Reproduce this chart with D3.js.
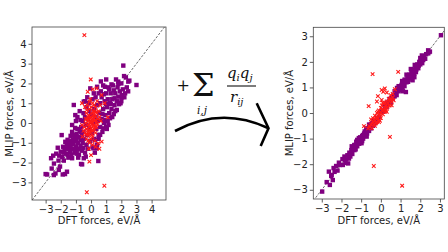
<!DOCTYPE html>
<html lang="en">
<head>
<meta charset="utf-8"/>
<title>MLIP vs DFT forces</title>
<style>
    body { margin: 0; background: #fff; }
    .axis text { font: 10px "DejaVu Sans", sans-serif; fill: #222; }
    .axis line { stroke: #333; stroke-width: 0.8; }
    .axis path { display: none; }
    .label { font: 10px "DejaVu Sans", sans-serif; fill: #222; }
    .math { font-family: "DejaVu Serif", "Liberation Serif", serif; fill: #111; }
</style>
</head>
<body>
<div id="graph"></div>
<script src="https://cdn.jsdelivr.net/npm/d3@7"></script>
<script>
    // ---- data (DFT force, MLIP force) ----
    var leftTicks = [-3, -2, -1, 0, 1, 2, 3, 4];
    var rightTicks = [-3, -2, -1, 0, 1, 2, 3];

    var leftPurple = [
        [-3.0,-2.58],[-2.6,-2.3],[-2.64,-1.78],[-2.45,-2.05],[-2.3,-1.55],[-2.15,-1.9],[-2.05,-2.2],[-2.0,-1.45],
        [-1.9,-1.72],[-1.72,-2.58],[-1.85,-1.2],[-1.94,-0.61],[-1.75,-1.35],[-1.65,-1.55],[-1.6,-1.1],[-1.55,-0.85],
        [-1.7,-0.95],[-2.2,-1.25],[-2.5,-1.65],[-1.8,-1.9],[-1.5,-1.75],[-2.35,-2.55],[-2.9,-2.6],[-2.46,-2.63],
        [-1.59,-2.46],[-1.87,-2.6],[-2.13,-2.37],[-1.25,-1.78],[-0.59,-2.09],[-0.48,-1.78],[-1.08,-1.31],
        [-1.45,-1.3],[-1.39,-1.11],[-1.3,-0.9],[-1.35,-0.65],[-1.25,-0.45],[-1.2,-1.3],[-1.15,-1.05],[-1.1,-0.75],
        [-1.1,-1.5],[-1.0,-1.2],[-1.0,-0.9],[-0.95,-0.55],[-0.9,-1.35],[-0.9,-0.3],[-0.85,-1.0],[-0.8,-0.7],
        [-0.8,-1.6],[-0.75,-0.4],[-0.7,-1.15],[-0.7,-0.85],[-0.66,-2.07],[-0.65,-0.2],[-0.6,-1.4],[-0.6,-0.6],
        [-0.55,-1.0],[-0.55,0.1],[-1.14,0.91],[-1.04,0.4],[-0.9,0.3],[-1.25,-0.1],[-1.4,-1.45],[-0.85,-1.75],
        [-0.5,-0.45],[-0.5,-1.25],[-0.5,0.5],[-0.7,0.15],[-1.0,0.1],[-0.75,0.6],[-0.48,1.08],[-1.2,-0.6],
        [-1.6,-1.3],[-1.3,-1.6],[-0.95,-1.55],[-0.35,-1.7],[-1.45,-0.95],[-1.8,-1.5],[-1.2,-0.85],[-0.95,-0.7],
        [-1.35,-1.25],[-1.05,-1.45],[-0.75,-1.3],[-1.55,-1.6],[-2.1,-1.65],[-0.65,-0.45],[-1.05,-0.25],
        [-0.45,-0.8],[-0.4,-1.5],[-0.4,0.3],[-0.35,-0.1],[-0.3,-1.1],[-0.3,0.8],[-0.25,-0.6],[-0.2,0.2],
        [-0.2,-1.3],[-0.15,1.0],[-0.1,-0.3],[-0.1,0.6],[-0.05,-0.9],[0.0,0.4],[0.05,-0.5],[0.1,1.2],
        [0.1,-1.2],[0.15,0.0],[0.2,0.7],[0.2,-0.8],[0.25,-1.5],[0.3,0.3],[0.3,1.3],[0.35,-0.3],
        [0.4,0.9],[0.4,-1.1],[0.45,0.1],[0.48,-1.92],[0.5,1.5],[0.5,-0.6],[-0.4,1.1],[-0.25,1.3],
        [-0.05,1.75],[0.18,1.5],[0.4,1.83],[0.38,-1.28],[0.15,-1.28],[0.26,-0.86],[0.6,-0.6],[0.81,-0.27],
        [0.55,0.5],[0.6,1.0],[0.6,-0.2],[0.65,1.6],[0.7,0.2],[0.7,1.3],[0.75,-0.45],[0.8,0.7],
        [0.8,1.9],[0.85,0.0],[0.9,1.1],[0.92,1.83],[0.95,0.4],[1.0,-0.2],[1.0,1.5],[1.04,-0.3],
        [1.05,0.8],[1.1,0.1],[1.1,1.2],[1.15,1.8],[1.2,0.5],[1.25,0.24],[1.25,1.0],[1.3,1.5],
        [1.35,0.7],[1.4,0.3],[1.4,1.2],[1.45,1.9],[1.5,0.45],[0.5,-0.8],[1.15,-0.1],[0.65,2.1],
        [1.0,2.2],[0.85,1.45],[1.2,1.7],[1.55,1.25],[0.75,0.45],[1.0,0.95],[0.95,0.15],[1.3,0.95],
        [1.55,0.9],[1.6,1.5],[1.65,2.2],[1.7,0.66],[1.7,1.1],[1.75,1.8],[1.8,1.33],[1.8,2.09],
        [1.85,0.95],[1.9,1.6],[1.95,1.0],[2.0,2.0],[2.05,1.3],[2.1,1.7],[2.13,2.9],[2.18,2.37],
        [2.2,1.3],[2.25,1.5],[2.36,1.8],[2.46,2.09],[2.3,2.3],[2.45,1.6],[3.0,1.92],[2.53,2.14],
        [1.6,0.6],[2.0,1.1],[1.8,1.97],[2.03,1.41],[1.5,1.65],[1.35,1.95]
    ];

    var leftRed = [
        [0,0],[0.1,0.2],[-0.1,-0.2],[0.2,-0.1],[-0.2,0.1],[0.05,0.5],[-0.05,-0.5],[0.3,0.3],
        [-0.3,-0.3],[0.15,-0.4],[-0.15,0.4],[0.25,0.6],[-0.25,-0.6],[0.35,0.0],[-0.35,0.0],[0.0,0.8],
        [0.0,-0.8],[0.1,-0.7],[-0.1,0.7],[0.2,0.9],[-0.2,-0.9],[0.4,0.5],[-0.4,-0.5],[0.3,-0.5],
        [-0.3,0.5],[0.05,0.15],[-0.05,-0.15],[0.12,0.35],[-0.12,-0.35],[0.22,0.1],[-0.22,-0.1],[0.45,0.2],
        [-0.45,-0.2],[0.1,1.0],[-0.1,-1.0],[0.3,0.8],[-0.3,-0.8],[0.5,0.6],[-0.5,-0.4],[0.2,-0.3],
        [-0.2,0.3],[0.0,0.3],[0.0,-0.3],[0.15,0.6],[-0.15,-0.6],[0.35,-0.2],[-0.35,0.2],[0.6,0.9],
        [-0.6,-0.1],[0.1,-1.1],[0.25,-0.9],[-0.05,1.2],[0.4,1.1],[-0.4,0.8],[0.55,0.3],[0.2,0.45],
        [-0.25,0.9],[0.3,-1.2],[-0.15,-1.3],[0.65,0.1],[0.08,0.05],[-0.08,0.25],[0.28,0.12],[-0.18,-0.45],
        [0.12,-0.15],[-0.28,0.65],[0.42,-0.05],[0.05,-0.6],[-0.02,0.1],[0.18,0.25],[-0.12,-0.05],[0.32,0.55],
        [-0.32,-0.55],[0.02,-0.4],[0.25,-0.2],[-0.25,0.2],
        [-0.44,4.44],[-0.02,2.2],[0.88,-3.17],[-0.28,-3.5],[-0.11,-1.95],[0.0,-1.62],[0.48,-1.03],[0.7,-0.94],
        [1.1,0.29],[0.7,1.41],[0.37,1.75],[0.11,1.7],[-0.22,1.58],[-0.11,1.08],[-0.57,-0.69],[0.55,-1.3],
        [-0.6,1.0],[0.9,1.0]
    ];

    var rightPurple = [
        [-2.98,-3.07],[-2.59,-2.81],[-2.5,-2.42],[-2.64,-2.29],[-2.52,-2.46],[-2.44,-2.62],[-2.27,-2.07],[-2.13,-1.94],
        [-2.08,-2.03],[-1.93,-2.03],[-1.83,-1.84],[-1.76,-1.81],[-1.66,-1.97],[-2.2,-2.25],[-2.35,-2.3],[-1.95,-1.8],
        [-1.7,-1.65],[-1.6,-1.55],[-1.55,-1.7],[-1.5,-1.45],[-1.45,-1.6],[-1.4,-1.35],[-1.34,-1.45],[-1.3,-1.25],
        [-1.25,-1.12],[-1.2,-1.3],[-1.15,-1.1],[-1.1,-1.2],[-1.05,-0.95],[-1.0,-1.05],[-0.95,-0.9],[-0.91,-0.86],
        [-0.9,-1.0],[-0.85,-0.8],[-0.8,-0.9],[-0.75,-0.7],[-0.74,-0.6],[-0.7,-0.8],[-0.65,-0.6],[-0.6,-0.7],
        [-0.55,-0.5],[-0.5,-0.6],[-0.45,-0.4],[-0.4,-0.5],[-0.35,-0.3],[-0.3,-0.4],[-0.2,-0.2],[-0.1,-0.15],
        [0.0,0.05],[0.1,0.05],[0.2,0.25],[0.3,0.25],[0.4,0.45],[0.5,0.4],[0.55,0.6],[0.6,0.55],
        [0.65,0.7],[0.7,0.65],[0.75,0.8],[0.8,0.7],[0.85,0.9],[0.9,0.85],[0.95,1.0],[1.0,0.9],
        [1.02,0.95],[1.05,1.1],[1.1,1.0],[1.15,1.15],[1.18,1.21],[1.2,1.05],[1.25,1.3],[1.27,0.82],
        [1.3,1.2],[1.35,1.4],[1.4,1.3],[1.45,1.5],[1.5,1.35],[1.55,1.6],[1.6,1.45],[1.61,1.28],
        [1.65,1.7],[1.7,1.55],[1.75,1.8],[1.78,1.6],[1.8,1.7],[1.85,1.9],[1.9,1.75],[1.95,2.0],
        [2.0,1.9],[2.05,2.1],[2.1,1.95],[2.15,2.07],[2.2,2.2],[2.25,2.12],[2.3,2.3],[2.45,2.38],
        [2.49,2.4],[2.4,2.45],[3.05,3.04],[-1.8,-1.95],[-1.35,-1.25],[-0.95,-1.1],[1.3,1.5],[1.7,1.4],
        [0.9,1.05],[-0.25,-0.35],[-0.5,-0.45],[0.45,0.55],[-2.75,-2.7],[-2.4,-2.15],[-0.6,-0.45],[-1.2,-1.05],
        [0.3,0.4],[0.7,0.85],[2.0,2.15],[1.2,1.3],[2.12,2.18],[2.4,2.33],
        [-1.85,-1.7],[-1.62,-1.78],[-1.48,-1.3],[-1.28,-1.42],[-1.12,-0.98],[-0.98,-1.18],[-0.82,-0.72],[-0.72,-0.92],
        [1.12,0.85],[1.38,1.22],[1.52,1.72],[1.72,1.88],[1.92,1.85],[2.08,2.25],[0.82,0.98],[1.08,1.25]
    ];

    var rightRed = [
        [0,0],[0.05,0.1],[-0.05,-0.1],[0.1,0.15],[-0.1,-0.05],[0.15,0.1],[-0.15,-0.2],[0.2,0.2],
        [-0.2,-0.15],[0.25,0.3],[-0.25,-0.2],[0.3,0.2],[-0.3,-0.3],[0.35,0.4],[-0.35,-0.25],[0.4,0.3],
        [-0.4,-0.35],[0.45,0.45],[-0.45,-0.4],[0.5,0.55],[-0.5,-0.45],[0.55,0.45],[-0.55,-0.55],[0.6,0.6],
        [-0.6,-0.5],[0.0,0.2],[0.0,-0.2],[0.1,-0.05],[-0.1,0.1],[0.2,0.05],[-0.2,0.0],[0.3,0.45],
        [-0.3,-0.1],[0.15,0.35],[-0.15,0.05],[0.25,0.1],[-0.25,-0.4],[0.35,0.25],[-0.35,-0.45],[0.05,0.3],
        [-0.05,-0.3],[0.4,0.55],[-0.4,-0.2],[0.1,0.4],[-0.1,-0.35],[0.65,0.5],[-0.65,-0.6],[0.2,0.4],
        [-0.2,-0.35],[0.45,0.3],[0.5,0.7],[-0.5,-0.25],[-0.45,-0.6],[0.3,0.05],[-0.3,-0.5],[0.55,0.3],
        [-0.42,1.52],[0.88,1.61],[-0.36,-2.07],[1.08,-2.84],[0.46,-0.93],[-0.62,0.27],[-0.15,0.66],[0.12,0.83],
        [0.2,0.96],[0.04,0.51],[-0.86,-0.51],[0.71,0.93],[0.3,0.8],[-0.2,0.45],[0.6,0.75],[0.04,0.9]
    ];

    var W = 448, H = 252;
    var svg = d3.select("#graph").append("svg")
        .attr("width", W).attr("height", H);

    function drawPanel(id, box, xDom, yDom, ticks, purple, red) {
        var x = d3.scaleLinear().domain(xDom).range([box.x0, box.x1]);
        var y = d3.scaleLinear().domain(yDom).range([box.y1, box.y0]);
        var fmt = d3.format("d");

        svg.append("clipPath").attr("id", id)
            .append("rect")
            .attr("x", box.x0).attr("y", box.y0)
            .attr("width", box.x1 - box.x0).attr("height", box.y1 - box.y0);

        var g = svg.append("g").attr("clip-path", "url(#" + id + ")");

        // y = x reference line
        var lo = Math.min(xDom[0], yDom[0]), hi = Math.max(xDom[1], yDom[1]);
        g.append("line")
            .attr("x1", x(lo)).attr("y1", y(lo))
            .attr("x2", x(hi)).attr("y2", y(hi))
            .style("stroke", "#444")
            .style("stroke-width", 0.8)
            .style("stroke-dasharray", "2.5,1.5");

        g.selectAll(".sq")
            .data(purple)
            .enter()
            .append("rect")
            .attr("class", "sq")
            .attr("x", function (d) { return x(d[0]) - 2.2; })
            .attr("y", function (d) { return y(d[1]) - 2.2; })
            .attr("width", 4.4).attr("height", 4.4)
            .style("fill", "#800080");

        g.selectAll(".cross")
            .data(red)
            .enter()
            .append("path")
            .attr("class", "cross")
            .attr("transform", function (d) { return "translate(" + x(d[0]) + "," + y(d[1]) + ")"; })
            .attr("d", "M-1.8,-1.8L1.8,1.8M1.8,-1.8L-1.8,1.8")
            .style("stroke", "#ff1a1a")
            .style("stroke-width", 1.1)
            .style("fill", "none");

        svg.append("g")
            .attr("class", "axis")
            .attr("transform", "translate(0," + box.y1 + ")")
            .call(d3.axisBottom(x).tickValues(ticks).tickFormat(fmt).tickSize(3.5).tickPadding(2).tickSizeOuter(0));

        svg.append("g")
            .attr("class", "axis")
            .attr("transform", "translate(" + box.x0 + ",0)")
            .call(d3.axisLeft(y).tickValues(ticks).tickFormat(fmt).tickSize(3.5).tickPadding(2).tickSizeOuter(0));

        svg.append("rect")
            .attr("x", box.x0).attr("y", box.y0)
            .attr("width", box.x1 - box.x0).attr("height", box.y1 - box.y0)
            .style("fill", "none")
            .style("stroke", "#444")
            .style("stroke-width", 0.8);

        svg.append("text")
            .attr("class", "label")
            .attr("x", (box.x0 + box.x1) / 2)
            .attr("y", 224)
            .style("text-anchor", "middle")
            .text("DFT forces, eV/Å");

        svg.append("text")
            .attr("class", "label")
            .attr("transform", "translate(" + box.ylab + "," + (box.y0 + box.y1) / 2 + ") rotate(-90)")
            .attr("dy", "0.35em")
            .style("text-anchor", "middle")
            .text("MLIP forces, eV/Å");
    }

    drawPanel("clipL", { x0: 32, x1: 166, y0: 27, y1: 200, ylab: 9 },
        [-3.9, 4.95], [-3.89, 4.85], leftTicks, leftPurple, leftRed);
    drawPanel("clipR", { x0: 313.3, x1: 444.3, y0: 27.3, y1: 199, ylab: 289 },
        [-3.43, 3.22], [-3.36, 3.35], rightTicks, rightPurple, rightRed);

    // ---- formula and arrow in the middle ----
    var m = svg.append("g").attr("class", "math");
    m.append("text").attr("x", 176.5).attr("y", 91).style("font-size", "16px").text("+");
    m.append("text").attr("x", 192).attr("y", 96).style("font-size", "32px").text("Σ");
    m.append("text").attr("x", 197).attr("y", 114).style("font-size", "10.5px").style("font-style", "italic").text("i,j");

    var num = m.append("text").attr("x", 227).attr("y", 78).style("font-size", "15px").style("font-style", "italic");
    num.append("tspan").text("q");
    num.append("tspan").attr("dy", 3).style("font-size", "10px").text("i");
    num.append("tspan").attr("dy", -3).text("q");
    num.append("tspan").attr("dy", 3).style("font-size", "10px").text("j");

    m.append("line").attr("x1", 227).attr("x2", 256).attr("y1", 86).attr("y2", 86)
        .style("stroke", "#111").style("stroke-width", 1.1);

    var den = m.append("text").attr("x", 230).attr("y", 101.5).style("font-size", "15px").style("font-style", "italic");
    den.append("tspan").text("r");
    den.append("tspan").attr("dy", 3).style("font-size", "10px").text("ij");

    svg.append("path")
        .attr("d", "M175,131 Q221,106 268,128")
        .style("fill", "none").style("stroke", "#000").style("stroke-width", 2.6);
    svg.append("path")
        .attr("d", "M256.7,103.3 L268.5,128.3 L260.7,146")
        .style("fill", "none").style("stroke", "#000").style("stroke-width", 2.6)
        .style("stroke-linejoin", "miter");
</script>
</body>
</html>
